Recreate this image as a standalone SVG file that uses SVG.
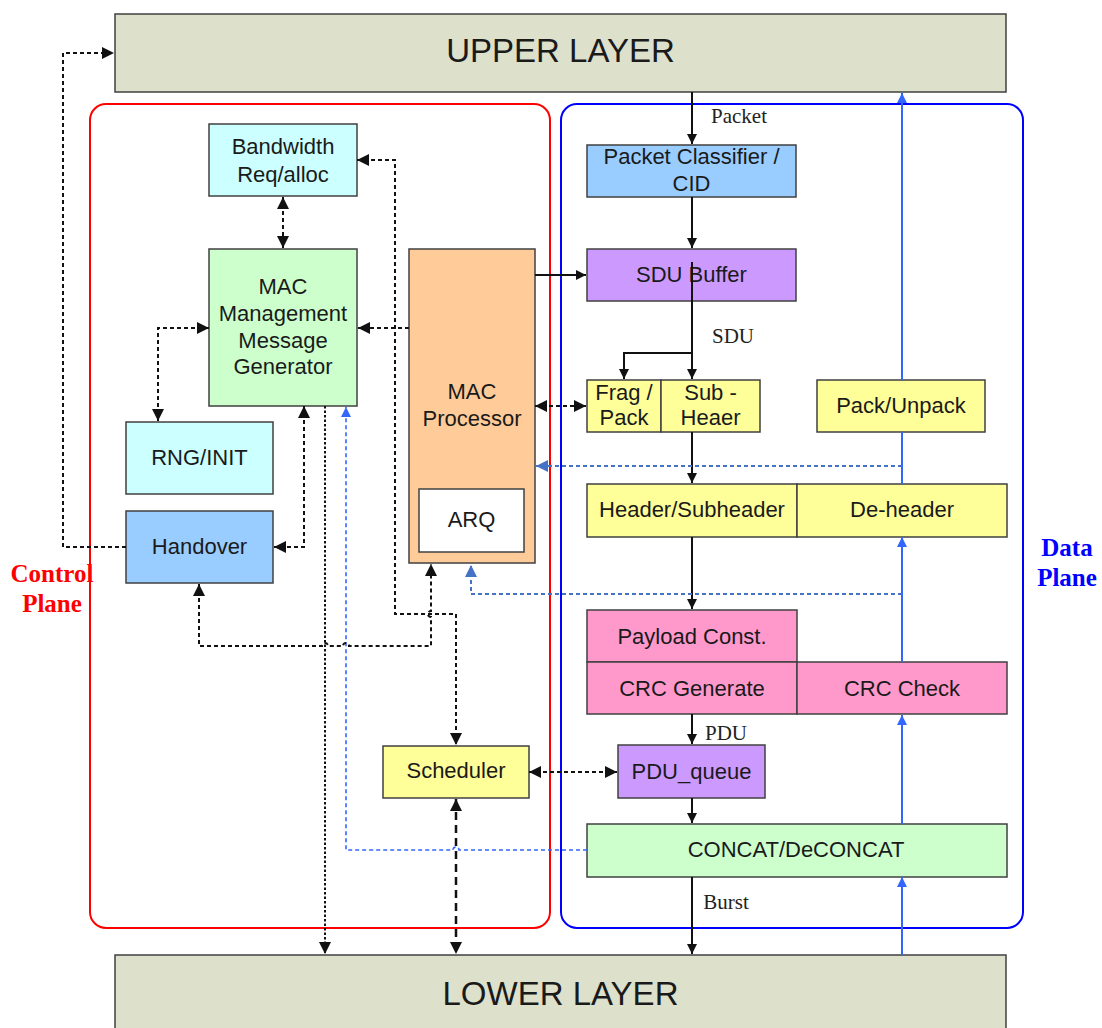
<svg xmlns="http://www.w3.org/2000/svg" width="1102" height="1028" viewBox="0 0 1102 1028">
  <style>
    .box { stroke: #404040; stroke-width: 1.5; }
    .lbl { font-family: "Liberation Sans", Arial, sans-serif; font-size: 22px; fill: #1a1a1a; text-anchor: middle; dominant-baseline: central; }
    .big { font-size: 33px; }
    .tag { font-family: "Liberation Serif", "Times New Roman", serif; font-size: 21px; fill: #222; text-anchor: middle; dominant-baseline: central; }
    .plane { font-family: "Liberation Serif", "Times New Roman", serif; font-size: 25px; font-weight: bold; text-anchor: middle; }
    .solid { fill: none; stroke: #111; stroke-width: 2; }
    .dash { fill: none; stroke: #111; stroke-width: 2; stroke-dasharray: 4 3; }
    .dot { fill: none; stroke: #111; stroke-width: 2; stroke-dasharray: 2.5 2; }
    .long { fill: none; stroke: #111; stroke-width: 2.5; stroke-dasharray: 8 5; }
    .bsolid { fill: none; stroke: #3366ff; stroke-width: 2; }
    .bdash { fill: none; stroke: #4472c4; stroke-width: 2; stroke-dasharray: 4 3; }
    .bdash2 { fill: none; stroke: #3366ff; stroke-width: 1.6; stroke-dasharray: 4 3; }
  </style>
  <defs>
    <marker id="ah" viewBox="0 0 10 10" refX="10" refY="5" markerWidth="12" markerHeight="12" markerUnits="userSpaceOnUse" orient="auto-start-reverse">
      <path d="M0,0 L10,5 L0,10 z" fill="#111"/>
    </marker>
    <marker id="as" viewBox="0 0 10 10" refX="10" refY="5" markerWidth="10" markerHeight="10" markerUnits="userSpaceOnUse" orient="auto-start-reverse">
      <path d="M0,0 L10,5 L0,10 z" fill="#111"/>
    </marker>
    <marker id="ab" viewBox="0 0 10 10" refX="10" refY="5" markerWidth="10" markerHeight="10" markerUnits="userSpaceOnUse" orient="auto-start-reverse">
      <path d="M0,0 L10,5 L0,10 z" fill="#3366ff"/>
    </marker>
    <marker id="ab2" viewBox="0 0 10 10" refX="10" refY="5" markerWidth="12" markerHeight="12" markerUnits="userSpaceOnUse" orient="auto-start-reverse">
      <path d="M0,0 L10,5 L0,10 z" fill="#4472c4"/>
    </marker>
  </defs>

  <rect width="1102" height="1028" fill="#ffffff"/>

  <!-- plane frames -->
  <g id="frames">
    <rect x="90" y="104" width="460" height="824" rx="16" fill="none" stroke="#ff0000" stroke-width="2"/>
    <rect x="561" y="104" width="462" height="824" rx="16" fill="none" stroke="#0000ff" stroke-width="2"/>
  </g>

  <!-- layers -->
  <g id="upper-layer">
    <rect class="box" x="115" y="14" width="891" height="78" fill="#dde0cb"/>
    <text class="lbl big" x="560.5" y="50">UPPER LAYER</text>
  </g>
  <g id="lower-layer">
    <rect class="box" x="115" y="955" width="891" height="80" fill="#dde0cb"/>
    <text class="lbl big" x="560.5" y="993">LOWER LAYER</text>
  </g>

  <!-- control plane nodes -->
  <g id="bandwidth">
    <rect class="box" x="209" y="124" width="148" height="72" fill="#ccffff"/>
    <text class="lbl" x="283" y="146">Bandwidth</text>
    <text class="lbl" x="283" y="174">Req/alloc</text>
  </g>
  <g id="mac-mgmt">
    <rect class="box" x="209" y="249" width="148" height="157" fill="#ccffcc"/>
    <text class="lbl" x="283" y="286">MAC</text>
    <text class="lbl" x="283" y="313">Management</text>
    <text class="lbl" x="283" y="340">Message</text>
    <text class="lbl" x="283" y="366">Generator</text>
  </g>
  <g id="rng-init">
    <rect class="box" x="126" y="422" width="147" height="72" fill="#ccffff"/>
    <text class="lbl" x="199.5" y="457">RNG/INIT</text>
  </g>
  <g id="handover">
    <rect class="box" x="126" y="511" width="147" height="72" fill="#99ccff"/>
    <text class="lbl" x="199.5" y="546">Handover</text>
  </g>
  <g id="mac-processor">
    <rect class="box" x="409" y="249" width="126" height="314" fill="#ffcc99"/>
    <text class="lbl" x="472" y="391">MAC</text>
    <text class="lbl" x="472" y="418">Processor</text>
  </g>
  <g id="arq">
    <rect class="box" x="419" y="489" width="105" height="63" fill="#ffffff"/>
    <text class="lbl" x="471.5" y="519">ARQ</text>
  </g>
  <g id="scheduler">
    <rect class="box" x="383" y="746" width="146" height="52" fill="#ffff99"/>
    <text class="lbl" x="456" y="770">Scheduler</text>
  </g>

  <!-- data plane nodes -->
  <g id="packet-classifier">
    <rect class="box" x="587" y="145" width="209" height="52" fill="#99ccff"/>
    <text class="lbl" x="691.5" y="156">Packet Classifier /</text>
    <text class="lbl" x="691.5" y="183">CID</text>
  </g>
  <g id="sdu-buffer">
    <rect class="box" x="587" y="249" width="209" height="52" fill="#cc99ff"/>
    <text class="lbl" x="691.5" y="274">SDU Buffer</text>
  </g>
  <g id="frag-pack">
    <rect class="box" x="587" y="380" width="74" height="52" fill="#ffff99"/>
    <text class="lbl" x="624" y="392">Frag /</text>
    <text class="lbl" x="624" y="417">Pack</text>
  </g>
  <g id="sub-header">
    <rect class="box" x="661" y="380" width="99" height="52" fill="#ffff99"/>
    <text class="lbl" x="710.5" y="392">Sub -</text>
    <text class="lbl" x="710.5" y="417">Heaer</text>
  </g>
  <g id="pack-unpack">
    <rect class="box" x="817" y="380" width="168" height="52" fill="#ffff99"/>
    <text class="lbl" x="901" y="405">Pack/Unpack</text>
  </g>
  <g id="header-subheader">
    <rect class="box" x="587" y="484" width="210" height="53" fill="#ffff99"/>
    <text class="lbl" x="692" y="509">Header/Subheader</text>
  </g>
  <g id="de-header">
    <rect class="box" x="797" y="484" width="210" height="53" fill="#ffff99"/>
    <text class="lbl" x="902" y="509">De-header</text>
  </g>
  <g id="payload-const">
    <rect class="box" x="587" y="610" width="210" height="52" fill="#ff99cc"/>
    <text class="lbl" x="692" y="636">Payload Const.</text>
  </g>
  <g id="crc-generate">
    <rect class="box" x="587" y="662" width="210" height="52" fill="#ff99cc"/>
    <text class="lbl" x="692" y="688">CRC Generate</text>
  </g>
  <g id="crc-check">
    <rect class="box" x="797" y="662" width="210" height="52" fill="#ff99cc"/>
    <text class="lbl" x="902" y="688">CRC Check</text>
  </g>
  <g id="pdu-queue">
    <rect class="box" x="618" y="745" width="147" height="53" fill="#cc99ff"/>
    <text class="lbl" x="691.5" y="771">PDU_queue</text>
  </g>
  <g id="concat">
    <rect class="box" x="587" y="824" width="420" height="53" fill="#ccffcc"/>
    <text class="lbl" x="796" y="849">CONCAT/DeCONCAT</text>
  </g>

  <!-- connectors -->
  <g id="connectors">
    <!-- data path, downward -->
    <path class="solid" d="M692,92 V144" marker-end="url(#as)"/>
    <path class="solid" d="M692,197 V248" marker-end="url(#as)"/>
    <path class="solid" d="M692,262 V379" marker-end="url(#as)"/>
    <path class="solid" d="M692,353 H624 V379" marker-end="url(#as)"/>
    <path class="solid" d="M692,432 V483" marker-end="url(#as)"/>
    <path class="solid" d="M692,537 V609" marker-end="url(#as)"/>
    <path class="solid" d="M692,714 V744" marker-end="url(#as)"/>
    <path class="solid" d="M692,798 V823" marker-end="url(#as)"/>
    <path class="solid" d="M692,877 V954" marker-end="url(#as)"/>
    <path class="solid" d="M535,275 H586" marker-end="url(#as)"/>

    <!-- data path, upward -->
    <path class="bsolid" d="M902,955 V877" marker-end="url(#ab)"/>
    <path class="bsolid" d="M902,824 V715" marker-end="url(#ab)"/>
    <path class="bsolid" d="M902,662 V537" marker-end="url(#ab)"/>
    <path class="bsolid" d="M902,484 V432"/>
    <path class="bsolid" d="M902,380 V93" marker-end="url(#ab)"/>

    <!-- feedback into control -->
    <path class="bdash" d="M902,466 H536" marker-end="url(#ab2)"/>
    <path class="bdash" d="M902,594 H471 V565" marker-end="url(#ab2)"/>
    <path class="bdash2" d="M587,850 H459 a3,3 0 0 0 -6,0 H346 V407" marker-end="url(#ab)"/>

    <!-- control signalling -->
    <path class="dash" d="M126,547 H63 V53 H114" marker-end="url(#ah)"/>
    <path class="dash" d="M283,197 V248" marker-start="url(#ah)" marker-end="url(#ah)"/>
    <path class="dash" d="M209,328 H158 V421" marker-start="url(#ah)" marker-end="url(#ah)"/>
    <path class="dash" d="M409,328 H358" marker-end="url(#ah)"/>
    <path class="dash" d="M304,406 V547 H274" marker-start="url(#ah)" marker-end="url(#ah)"/>
    <path class="dash" d="M357,160 H395 V614 H456 V745" marker-start="url(#ah)" marker-end="url(#ah)"/>
    <path class="dash" d="M199,584 V646 H322 a3,3 0 0 1 6,0 H343 a3,3 0 0 1 6,0 H431 V617 a3,3 0 0 1 0,-6 V564" marker-start="url(#ah)" marker-end="url(#ah)"/>
    <path class="dash" d="M535,406 H586" marker-start="url(#ah)" marker-end="url(#ah)"/>
    <path class="dash" d="M529,772 H617" marker-start="url(#ah)" marker-end="url(#ah)"/>
    <path class="dot" d="M325,406 V954" marker-end="url(#ah)"/>
    <path class="long" d="M456,799 V954" marker-start="url(#ah)" marker-end="url(#ah)"/>
  </g>

  <!-- flow labels -->
  <g id="flow-labels">
    <text class="tag" x="739" y="116">Packet</text>
    <text class="tag" x="733" y="336">SDU</text>
    <text class="tag" x="726" y="733">PDU</text>
    <text class="tag" x="726" y="902">Burst</text>
  </g>

  <!-- plane titles -->
  <g id="plane-titles">
    <text class="plane" x="52" y="582" fill="#ff0000">Control</text>
    <text class="plane" x="52" y="612" fill="#ff0000">Plane</text>
    <text class="plane" x="1067" y="556" fill="#0000ff">Data</text>
    <text class="plane" x="1067" y="586" fill="#0000ff">Plane</text>
  </g>
</svg>
